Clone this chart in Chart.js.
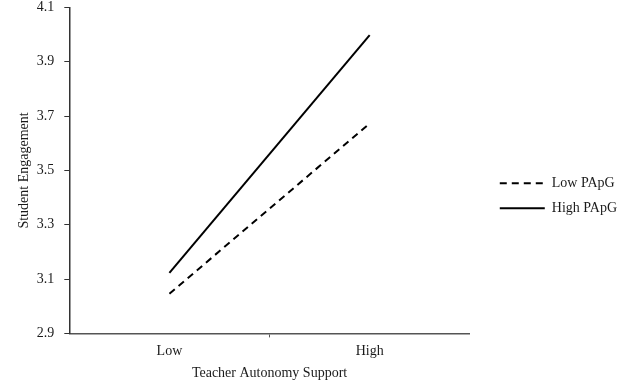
<!DOCTYPE html>
<html>
<head>
<meta charset="utf-8">
<script src="https://cdn.jsdelivr.net/npm/chart.js@4.4.1/dist/chart.umd.min.js"></script>
<style>
  html, body { margin: 0; padding: 0; background: #fff; }
  #wrap { width: 624px; height: 385px; position: relative; }
</style>
</head>
<body>
<div id="wrap"><canvas id="chart"></canvas></div>
<script>
// data
const categories = ['Low', 'High'];
const lowPApG = [3.046, 3.673];
const highPApG = [3.123, 3.998];
const yTicks = [2.9, 3.1, 3.3, 3.5, 3.7, 3.9, 4.1];

const FONT = "'Liberation Serif', 'Times New Roman', serif";
const INK = '#1a1a1a';
const AXIS = '#555555';

Chart.defaults.font.family = FONT;
Chart.defaults.font.size = 14;
Chart.defaults.color = INK;

// nudge the legend a little, the stock placement is a few px off
const legendNudge = {
    id: 'legendNudge',
    afterLayout(chart) {
        const lg = chart.legend;
        if (!lg) return;
        lg.left += 3; lg.right += 3;
        lg.top += 1; lg.bottom += 1;
        if (lg.adjustHitBoxes) lg.adjustHitBoxes();
    }
};

const ctx = document.getElementById('chart').getContext('2d');
new Chart(ctx, {
    type: 'line',
    data: {
        labels: categories,
        datasets: [{
            label: 'Low PApG',
            data: lowPApG,
            borderColor: '#000',
            backgroundColor: '#000',
            borderWidth: 2,
            borderDash: [7, 5],
            pointRadius: 0,
            fill: false,
            tension: 0
        }, {
            label: 'High PApG',
            data: highPApG,
            borderColor: '#000',
            backgroundColor: '#000',
            borderWidth: 2,
            pointRadius: 0,
            fill: false,
            tension: 0
        }]
    },
    plugins: [legendNudge],
    options: {
        responsive: true,
        maintainAspectRatio: false,
        animation: false,
        layout: {
            padding: { left: 4, top: 7.5, right: 0, bottom: 3 }
        },
        plugins: {
            legend: {
                position: 'right',
                maxWidth: 200,
                labels: {
                    usePointStyle: true,
                    pointStyle: 'line',
                    pointStyleWidth: 45,
                    padding: 11,
                    color: INK,
                    font: { size: 14 },
                    // legend lines need the dataset dash
                    generateLabels: (chart) => {
                        const items = Chart.defaults.plugins.legend.labels.generateLabels(chart);
                        items.forEach(it => {
                            const ds = chart.data.datasets[it.datasetIndex];
                            it.lineDash = ds.borderDash || [];
                            it.lineWidth = 2;
                            it.strokeStyle = '#000';
                        });
                        return items;
                    }
                }
            },
            tooltip: { enabled: false }
        },
        scales: {
            x: {
                offset: true,
                grid: {
                    offset: true,
                    drawOnChartArea: false,
                    tickLength: 4,
                    tickColor: (c) => (c.index === 1 ? AXIS : 'transparent')
                },
                border: { color: AXIS, width: 1.5 },
                ticks: { color: INK, padding: 6, font: { size: 14 } },
                title: {
                    display: true,
                    text: 'Teacher Autonomy Support',
                    color: INK,
                    font: { size: 14 },
                    padding: { top: -1, bottom: 0 }
                }
            },
            y: {
                min: 2.9,
                max: 4.1,
                afterBuildTicks: (axis) => {
                    axis.ticks = yTicks.map(v => ({ value: v }));
                },
                afterFit: (s) => { s.paddingTop = 0; },
                grid: {
                    drawOnChartArea: false,
                    tickLength: 5,
                    tickColor: '#333'
                },
                border: { color: '#333', width: 1.5 },
                ticks: {
                    color: INK,
                    padding: 10,
                    font: { size: 14 },
                    callback: (v) => Number(v).toFixed(1)
                },
                title: {
                    display: true,
                    text: 'Student Engagement',
                    color: INK,
                    font: { size: 14 },
                    padding: { top: 12, bottom: -6 }
                }
            },
            // empty axis that keeps a gap between the plot and the legend
            gap: {
                position: 'right',
                display: true,
                grid: { display: false },
                border: { display: false },
                ticks: { display: false },
                afterFit: (s) => { s.width = 16; }
            }
        }
    }
});
</script>
</body>
</html>
